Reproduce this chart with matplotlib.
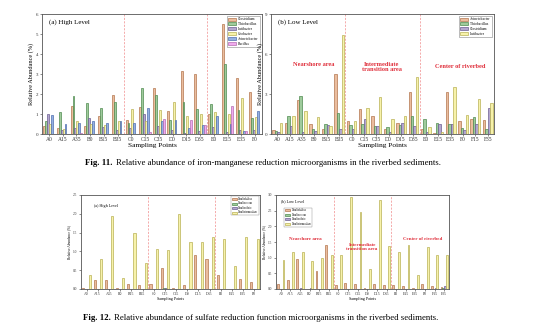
import matplotlib
matplotlib.use("Agg")
import matplotlib.pyplot as plt
import numpy as np

plt.rcParams['font.family'] = ['Liberation Serif', 'DejaVu Serif']

# ---------------- data ----------------
sites_high = ["A0", "A15", "A35", "B0", "B15", "B35", "C0", "C15", "C35",
              "D0", "D15", "D35", "E0", "E15", "E35", "F0"]
sites_low = ["A0", "A15", "A35", "B0", "B15", "B35", "C0", "C15", "C35",
             "D0", "D15", "D35", "E0", "E15", "E35", "F0", "F15", "F35"]

# Fig 11a (High level) - iron-manganese reducers
fe_high_names = ["Clostridium", "Thiobacillus", "Lutibacter", "Geobacter", "Acinetobacter", "Bacillus"]
clostridium_h = [0.40, 0.30, 1.40, 0.38, 0.90, 1.95, 0.68, 1.35, 2.32, 1.15, 3.15, 3.00, 1.00, 5.50, 2.80, 2.10]
thiobacillus_h = [0.65, 1.12, 1.90, 1.55, 1.30, 1.58, 0.55, 2.30, 1.93, 0.70, 1.58, 1.25, 1.50, 3.52, 1.20, 0.80]
lutibacter_h = [1.00, 0.18, 0.30, 0.78, 0.35, 0.18, 0.30, 1.00, 0.40, 0.20, 0.05, 0.15, 0.35, 0.10, 0.20, 0.20]
geobacter_h = [0.50, 0.25, 0.65, 0.50, 0.45, 0.65, 1.25, 0.65, 1.20, 1.60, 0.88, 1.00, 1.12, 1.02, 1.78, 0.85]
acinetobacter_h = [0.97, 0.52, 0.55, 0.65, 0.57, 0.65, 0.55, 1.32, 0.65, 0.72, 0.30, 0.47, 0.90, 0.50, 0.15, 1.14]
bacillus_h = [0.00, 0.00, 0.05, 0.00, 0.00, 0.00, 0.00, 0.10, 0.75, 0.00, 0.72, 0.45, 0.00, 1.42, 0.15, 0.00]

# Fig 11b (Low level)
fe_low_names = ["Acinetobacter", "Thiobacillus", "Clostridium", "Lutibacter"]
acinetobacter_l = [0.30, 0.85, 2.55, 0.72, 0.35, 4.50, 0.95, 1.88, 1.32, 0.35, 0.82, 3.15, 0.38, 0.08, 3.18, 1.00, 1.15, 1.08]
thiobacillus_l = [0.25, 1.38, 2.88, 0.38, 0.75, 1.60, 0.65, 0.78, 0.58, 0.55, 0.70, 1.32, 1.12, 0.82, 0.72, 0.42, 1.30, 0.40]
clostridium_l = [0.15, 0.62, 0.15, 0.20, 0.68, 0.35, 0.35, 1.12, 0.58, 0.15, 0.82, 0.58, 0.18, 0.75, 0.72, 0.30, 0.78, 1.95]
lutibacter_l = [0.85, 1.38, 1.72, 1.25, 0.58, 7.45, 1.00, 1.95, 2.75, 1.12, 1.38, 4.28, 0.55, 0.18, 3.50, 1.45, 2.60, 2.35]

# Fig 12 - sulfate reducers
s_names = ["Desulfobulbus", "Desulfococcus", "Desulfovibrio", "Desulfotomaculum"]
desulfobulbus_h = [0.02, 0.25, 0.23, 0.03, 0.14, 0.10, 0.14, 0.56, 0.03, 0.11, 0.90, 0.80, 0.36, 0.00, 0.27, 0.18]
desulfococcus_h = [0.00, 0.01, 0.01, 0.00, 0.01, 0.00, 0.01, 0.02, 0.01, 0.01, 0.01, 0.01, 0.01, 0.00, 0.01, 0.01]
desulfovibrio_h = [0.00, 0.01, 0.01, 0.00, 0.01, 0.01, 0.01, 0.02, 0.01, 0.01, 0.01, 0.01, 0.01, 0.00, 0.01, 0.01]
desulfotomaculum_h = [0.37, 0.80, 1.95, 0.29, 1.49, 0.70, 1.06, 1.04, 2.00, 1.25, 1.25, 1.38, 1.33, 0.60, 1.38, 1.34]

desulfobulbus_l = [0.15, 0.30, 0.96, 0.00, 0.57, 1.40, 0.12, 0.18, 0.15, 0.04, 0.17, 0.12, 0.12, 0.08, 0.02, 0.17, 0.10, 0.05]
desulfococcus_l = [0.00, 0.01, 0.01, 0.00, 0.01, 0.01, 0.00, 0.01, 0.01, 0.00, 0.01, 0.01, 0.00, 0.01, 0.01, 0.01, 0.01, 0.02]
desulfovibrio_l = [0.00, 0.01, 0.02, 0.02, 0.01, 0.01, 0.00, 0.01, 0.01, 0.00, 0.01, 0.01, 0.00, 0.01, 0.01, 0.01, 0.02, 0.08]
desulfotomaculum_l = [0.94, 1.17, 1.17, 0.90, 1.00, 1.10, 1.07, 2.95, 2.47, 0.63, 2.83, 1.38, 1.17, 1.42, 0.46, 1.35, 1.10, 1.10]

# ---------------- style ----------------
FACE = {"tan": "#ebbd9e", "green": "#9fcb9c", "purple": "#b3a6cf", "yellow": "#f7f2aa",
        "blue": "#94b0e2", "pink": "#f0aaee"}
EDGE = {"tan": "#b3764f", "green": "#4f8a4f", "purple": "#6c5e92", "yellow": "#b9b155",
        "blue": "#4f6fae", "pink": "#b36fb0"}
RED = "#e0303c"

W, H = 554, 331
fig = plt.figure(figsize=(W / 100, H / 100), dpi=100)


def ax_px(l, t, r, b):
    return fig.add_axes([l / W, 1 - b / H, (r - l) / W, (b - t) / H])


def grouped(ax, cats, series, names, colors, width, fs_tick, fs_lab, ymax, yticks, ytl):
    n = len(series)
    x = np.arange(len(cats))
    for i, (vals, c) in enumerate(zip(series, colors)):
        off = (i - (n - 1) / 2) * width
        ax.bar(x + off, vals, width, color=FACE[c], edgecolor=EDGE[c], linewidth=0.5,
               label=names[i], zorder=2)
    ax.set_xlim(-0.5, len(cats) - 0.5)
    ax.set_ylim(0, ymax)
    ax.set_xticks(x)
    ax.set_xticklabels(cats, fontsize=fs_tick)
    ax.set_yticks(yticks)
    ax.set_yticklabels(ytl, fontsize=fs_tick * 0.9)
    ax.tick_params(axis='both', length=1.5, width=0.4, pad=1, direction='out', colors='#333333')
    for s in ax.spines.values():
        s.set_linewidth(0.6)
        s.set_color('#555555')
    for xv in (5.5, 11.5):
        ax.axvline(xv, color='#f08a8a', lw=0.5, ls=(0, (3, 2)), zorder=1)
    ax.set_xlabel("Sampling Points", fontsize=fs_lab, labelpad=0.5)
    ax.set_ylabel("Relative Abundance (%)", fontsize=fs_lab * 0.85, labelpad=1.5)


# Fig 11a
ax1 = ax_px(42, 14, 262, 134)
grouped(ax1, sites_high,
        [clostridium_h, thiobacillus_h, lutibacter_h, geobacter_h, acinetobacter_h, bacillus_h],
        fe_high_names, ["tan", "green", "purple", "yellow", "blue", "pink"],
        0.14, 4.0, 5.3, 6, range(0, 7), [str(v) for v in range(0, 7)])
ax1.text(0.03, 0.93, "(a) High Level", transform=ax1.transAxes, fontsize=5, va='center', ha='left')
ax1.legend(loc='upper right', fontsize=2.6, handlelength=2.2, handleheight=0.9,
           borderpad=0.4, labelspacing=0.25, handletextpad=0.5, frameon=True,
           fancybox=False, edgecolor='#888888', framealpha=1).get_frame().set_linewidth(0.4)

# Fig 11b
ax2 = ax_px(271, 14, 494, 134)
grouped(ax2, sites_low,
        [acinetobacter_l, thiobacillus_l, clostridium_l, lutibacter_l],
        fe_low_names, ["tan", "green", "purple", "yellow"],
        0.2, 4.0, 5.3, 9, [0, 3, 6, 9], ["0", "3", "6", "9"])
ax2.text(0.03, 0.93, "(b) Low Level", transform=ax2.transAxes, fontsize=5, va='center', ha='left')
ax2.legend(loc='upper right', fontsize=2.6, handlelength=2.2, handleheight=0.9,
           borderpad=0.4, labelspacing=0.25, handletextpad=0.5, frameon=True,
           fancybox=False, edgecolor='#888888', framealpha=1).get_frame().set_linewidth(0.4)
ax2.text(2.97, 5.2, "Nearshore area", color=RED, fontsize=4.6, fontweight='bold', ha='center', va='center')
ax2.text(8.45, 5.05, "Intermediate\ntransition area", color=RED, fontsize=4.6, fontweight='bold',
         ha='center', va='center', linespacing=1.0)
ax2.text(14.8, 5.1, "Center of riverbed", color=RED, fontsize=4.6, fontweight='bold', ha='center', va='center')

# Fig 12a
ax3 = ax_px(81, 195, 260, 289)
grouped(ax3, sites_high,
        [desulfobulbus_h, desulfococcus_h, desulfovibrio_h, desulfotomaculum_h],
        s_names, ["tan", "green", "purple", "yellow"],
        0.19, 2.8, 3.0, 2.5, [0, 0.5, 1.0, 1.5, 2.0, 2.5], ["0.0", "0.5", "1.0", "1.5", "2.0", "2.5"])
ax3.text(0.07, 0.88, "(a) High Level", transform=ax3.transAxes, fontsize=3.0, va='center', ha='left')
ax3.legend(loc='upper right', fontsize=1.8, handlelength=2.2, handleheight=0.9,
           borderpad=0.3, labelspacing=0.2, handletextpad=0.5, frameon=True,
           fancybox=False, edgecolor='#888888', framealpha=1).get_frame().set_linewidth(0.3)

# Fig 12b
ax4 = ax_px(276, 195, 449, 289)
grouped(ax4, sites_low,
        [desulfobulbus_l, desulfococcus_l, desulfovibrio_l, desulfotomaculum_l],
        s_names, ["tan", "green", "purple", "yellow"],
        0.19, 2.8, 3.0, 3.0, [0, 0.5, 1.0, 1.5, 2.0, 2.5, 3.0],
        ["0.0", "0.5", "1.0", "1.5", "2.0", "2.5", "3.0"])
ax4.text(0.03, 0.93, "(b) Low Level", transform=ax4.transAxes, fontsize=3.0, va='center', ha='left')
ax4.legend(loc='upper left', bbox_to_anchor=(0.04, 0.88), fontsize=1.8, handlelength=2.2,
           handleheight=0.9, borderpad=0.3, labelspacing=0.2, handletextpad=0.5, frameon=True,
           fancybox=False, edgecolor='#888888', framealpha=1).get_frame().set_linewidth(0.3)
ax4.text(2.5, 1.58, "Nearshore area", color=RED, fontsize=3.6, fontweight='bold', ha='center', va='center')
ax4.text(8.46, 1.34, "Intermediate\ntransition area", color=RED, fontsize=3.6, fontweight='bold',
         ha='center', va='center', linespacing=1.0)
ax4.text(14.8, 1.58, "Center of riverbed", color=RED, fontsize=3.6, fontweight='bold', ha='center', va='center')

# Captions
def caption(x, y, bold, rest):
    t = fig.text(x / W, 1 - y / H, bold, fontsize=6.3, fontweight='bold', ha='left', va='center')
    fig.canvas.draw()
    bb = t.get_window_extent()
    fig.text((bb.x1 + 3) / W, 1 - y / H, rest, fontsize=6.3, ha='left', va='center')

caption(85, 163, "Fig. 11.", "Relative abundance of iron-manganese reduction microorganisms in the riverbed sediments.")
caption(83, 318, "Fig. 12.", "Relative abundance of sulfate reduction function microorganisms in the riverbed sediments.")

fig.savefig("out.png", dpi=100)
